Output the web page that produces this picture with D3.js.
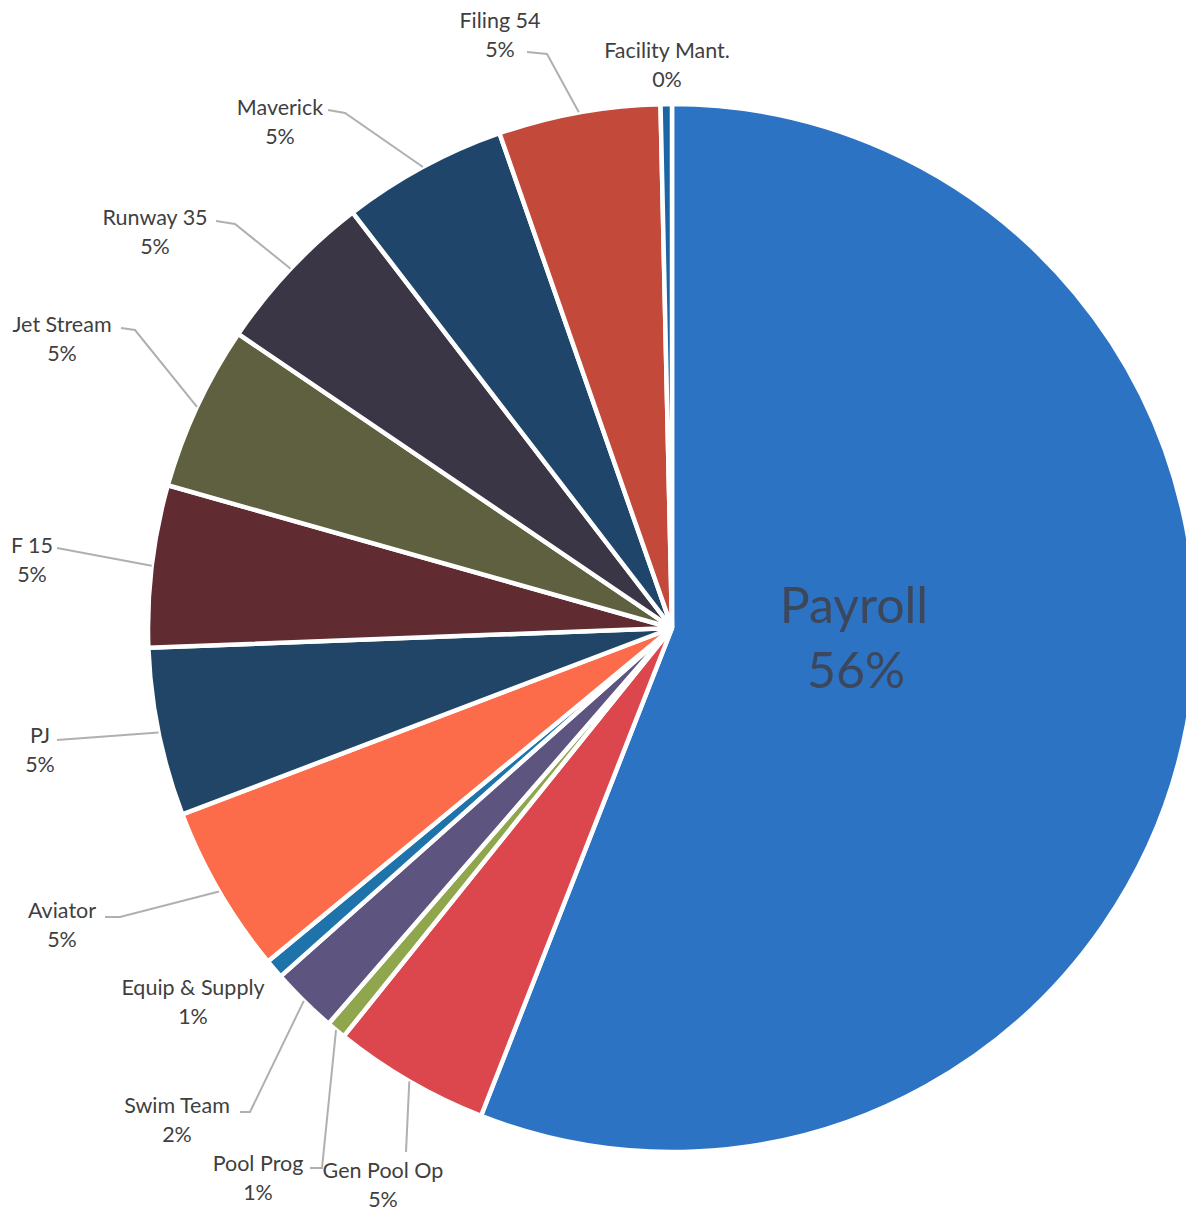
<!DOCTYPE html>
<html>
<head>
<meta charset="utf-8">
<script src="https://cdn.jsdelivr.net/npm/d3@7/dist/d3.min.js"></script>
<style>
  html, body { margin: 0; padding: 0; background: #fff; }
  svg { display: block; }
</style>
</head>
<body>
<svg id="chart" width="1186" height="1213"></svg>
<script>
// ---- data ----
const categories = ["Payroll", "Gen Pool Op", "Pool Prog", "Swim Team", "Equip & Supply", "Aviator", "PJ", "F 15", "Jet Stream", "Runway 35", "Maverick", "Filing 54", "Facility Mant."];
const values = [56.05, 4.85, 0.6, 2.05, 0.6, 5.2, 5.2, 5.0, 5.1, 5.1, 5.1, 5.0, 0.35];
const percentLabels = ["56%", "5%", "1%", "2%", "1%", "5%", "5%", "5%", "5%", "5%", "5%", "5%", "0%"];

// ---- styles / layout ----
const colors = ["#2d73c4", "#dc464d", "#8fa64d", "#5d5580", "#1f73ab", "#fd6c4a", "#204566", "#602c32", "#5e6040", "#3b3646", "#1f456a", "#c3493a", "#1b65a5"];
// label layout: text centre (tx, ty of first line), leader path points after the arc anchor
const labelLayout = [
  null,
  { tx: 383, ty: 1170, pts: [[406, 1152]] },
  { tx: 258, ty: 1163, pts: [[322, 1168], [310, 1168]] },
  { tx: 177, ty: 1105, pts: [[250, 1112], [240, 1112]] },
  { tx: 193, ty: 987, pts: null },
  { tx: 62, ty: 910, pts: [[120, 917], [105, 917]] },
  { tx: 40, ty: 735, pts: [[57, 740]] },
  { tx: 32, ty: 545, pts: [[57, 548]] },
  { tx: 62, ty: 324, pts: [[135, 330], [121, 328]] },
  { tx: 155, ty: 217, pts: [[235, 224], [216, 221]] },
  { tx: 280, ty: 107, pts: [[345, 113], [328, 110]] },
  { tx: 500, ty: 20, pts: [[547, 54], [527, 52]] },
  { tx: 667, ty: 50, pts: null }
];

const svg = d3.select("#chart");
const cx = 672, cy = 628, R = 524;
const g = svg.append("g").attr("transform", `translate(${cx},${cy})`);

const pie = d3.pie().sort(null).value(d => d).startAngle(0).endAngle(2 * Math.PI);
const arcs = pie(values);
const arc = d3.arc().innerRadius(0).outerRadius(R);

g.selectAll("path.slice")
  .data(arcs)
  .join("path")
  .attr("class", "slice")
  .attr("d", arc)
  .attr("fill", (d, i) => colors[i])
  .attr("stroke", "#ffffff")
  .attr("stroke-width", 4.5)
  .attr("stroke-linejoin", "miter");

// leader lines
const lineGen = d3.line();
arcs.forEach((d, i) => {
  const L = labelLayout[i];
  if (!L || !L.pts) return;
  const a = (d.startAngle + d.endAngle) / 2;
  const start = [cx + R * Math.sin(a), cy - R * Math.cos(a)];
  svg.append("path")
    .attr("d", lineGen([start, ...L.pts]))
    .attr("fill", "none")
    .attr("stroke", "#b0b0b0")
    .attr("stroke-width", 2);
});

// outside labels
arcs.forEach((d, i) => {
  const L = labelLayout[i];
  if (!L) return;
  const t = svg.append("text")
    .attr("x", L.tx).attr("y", L.ty)
    .attr("text-anchor", "middle")
    .attr("font-family", "Lato, 'Open Sans', sans-serif")
    .attr("font-size", 21.5)
    .attr("fill", "#3f3f3f");
  t.append("tspan").attr("x", L.tx).attr("dy", "0.35em").text(categories[i]);
  t.append("tspan").attr("x", L.tx).attr("dy", 29).text(percentLabels[i]);
});

// inside label for the largest slice
const big = svg.append("text")
  .attr("text-anchor", "middle")
  .attr("font-family", "Lato, 'Open Sans', sans-serif")
  .attr("font-size", 50)
  .attr("fill", "#3c475b");
big.append("tspan").attr("x", 854).attr("y", 623).text(categories[0]);
big.append("tspan").attr("x", 856).attr("y", 688).text(percentLabels[0]);
</script>
</body>
</html>
